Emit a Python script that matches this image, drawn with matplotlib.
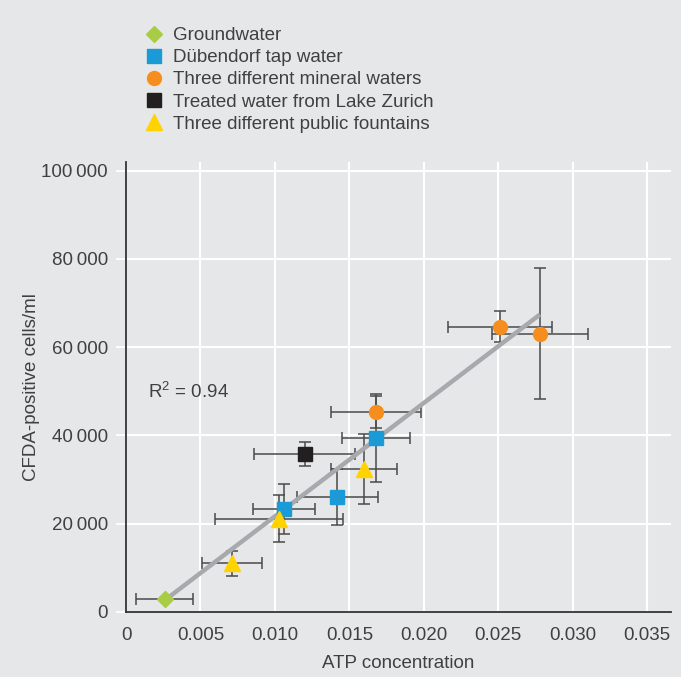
import matplotlib.pyplot as plt
import numpy as np
from matplotlib.ticker import FuncFormatter

# Werte
groundwater_x = [0.0026]
groundwater_y = [2900]
groundwater_xerr = [0.0019]
groundwater_yerr = [0]

tap_x = [0.0106, 0.0142, 0.0168]
tap_y = [23300, 26100, 39400]
tap_xerr = [0.0021, 0.0027, 0.0023]
tap_yerr = [5700, 6400, 9900]

mineral_x = [0.0168, 0.0251, 0.0278]
mineral_y = [45400, 64600, 63100]
mineral_xerr = [0.0030, 0.0035, 0.0032]
mineral_yerr = [3600, 3500, 14900]

lake_x = [0.0120]
lake_y = [35800]
lake_xerr = [0.0034]
lake_yerr = [2800]

fountain_x = [0.0071, 0.0103, 0.0160]
fountain_y = [11000, 21100, 32400]
fountain_xerr = [0.0020, 0.0043, 0.0022]
fountain_yerr = [2800, 5300, 8000]

x_ticks = [0, 0.005, 0.010, 0.015, 0.020, 0.025, 0.030, 0.035]
y_ticks = [0, 20000, 40000, 60000, 80000, 100000]
r2_text = "R$^2$ = 0.94"

bg = "#E6E7E8"
txt = "#404040"
plt.rcParams['font.family'] = ['Liberation Sans', 'DejaVu Sans']
plt.rcParams['font.size'] = 13.5
plt.rcParams['mathtext.fontset'] = 'custom'
plt.rcParams['mathtext.rm'] = 'Liberation Sans'

fig = plt.figure(figsize=(6.81, 6.77), dpi=100, facecolor=bg)
ax = fig.add_axes([126 / 681, 65 / 677, 545 / 681, 450 / 677], facecolor=bg)

groups = [
    ("Groundwater", groundwater_x, groundwater_y, groundwater_xerr, groundwater_yerr, "D", "#A9CC47", 8.5),
    ("Dübendorf tap water", tap_x, tap_y, tap_xerr, tap_yerr, "s", "#1A9BD7", 9.5),
    ("Three different mineral waters", mineral_x, mineral_y, mineral_xerr, mineral_yerr, "o", "#F68E1F", 10),
    ("Treated water from Lake Zurich", lake_x, lake_y, lake_xerr, lake_yerr, "s", "#231F20", 9.5),
    ("Three different public fountains", fountain_x, fountain_y, fountain_xerr, fountain_yerr, "^", "#FFD200", 12),
]

# Regressionsgerade über alle Punkte
all_x = np.concatenate([g[1] for g in groups])
all_y = np.concatenate([g[2] for g in groups])
k, b = np.polyfit(all_x, all_y, 1)
fx = np.array([all_x.min(), all_x.max()])
ax.plot(fx, k * fx + b, color="#A7A9AC", lw=3.2, zorder=3, solid_capstyle='butt')

for label, x, y, xe, ye, m, c, ms in groups:
    ax.errorbar(x, y, xerr=xe, yerr=ye, fmt='none', ecolor="#4A4A4A",
                elinewidth=1.1, capsize=4, capthick=1.1, zorder=2)
    ax.plot(x, y, ls='none', marker=m, color=c, ms=ms, mec=c, label=label, zorder=4)

ax.text(0.0015, 50000, r2_text, color=txt, va='center', ha='left')

ax.set_xlim(0, 0.0366)
ax.set_ylim(0, 101970)
ax.set_xticks(x_ticks)
ax.set_yticks(y_ticks)
ax.xaxis.set_major_formatter(FuncFormatter(lambda v, p: "0" if v == 0 else f"{v:.3f}"))
ax.yaxis.set_major_formatter(FuncFormatter(lambda v, p: f"{int(v):,}".replace(",", "\u2009")))
ax.grid(True, color="white", lw=1.5)
ax.set_axisbelow(True)

for s in ['top', 'right']:
    ax.spines[s].set_visible(False)
for s in ['left', 'bottom']:
    ax.spines[s].set_color("#333333")
    ax.spines[s].set_linewidth(1.3)

ax.tick_params(axis='y', length=7, width=1.3, color="white", pad=6, labelcolor=txt)
ax.tick_params(axis='x', length=6, width=1.3, color=bg, pad=5, labelcolor=txt)
ax.yaxis.get_major_ticks()[0].tick1line.set_color("#333333")
ax.xaxis.get_major_ticks()[0].tick1line.set_color("#333333")

ax.set_xlabel("ATP concentration", color=txt, labelpad=8)
ax.set_ylabel("CFDA-positive cells/ml", color=txt, labelpad=1)

ax.legend(loc='upper left', bbox_to_anchor=(145 / 681, 1 - 27 / 677), bbox_transform=fig.transFigure,
          frameon=False, handlelength=1.0, handletextpad=0.5, labelspacing=0.27,
          borderpad=0, borderaxespad=0, labelcolor=txt)

fig.savefig("out.png", dpi=100, facecolor=bg)
